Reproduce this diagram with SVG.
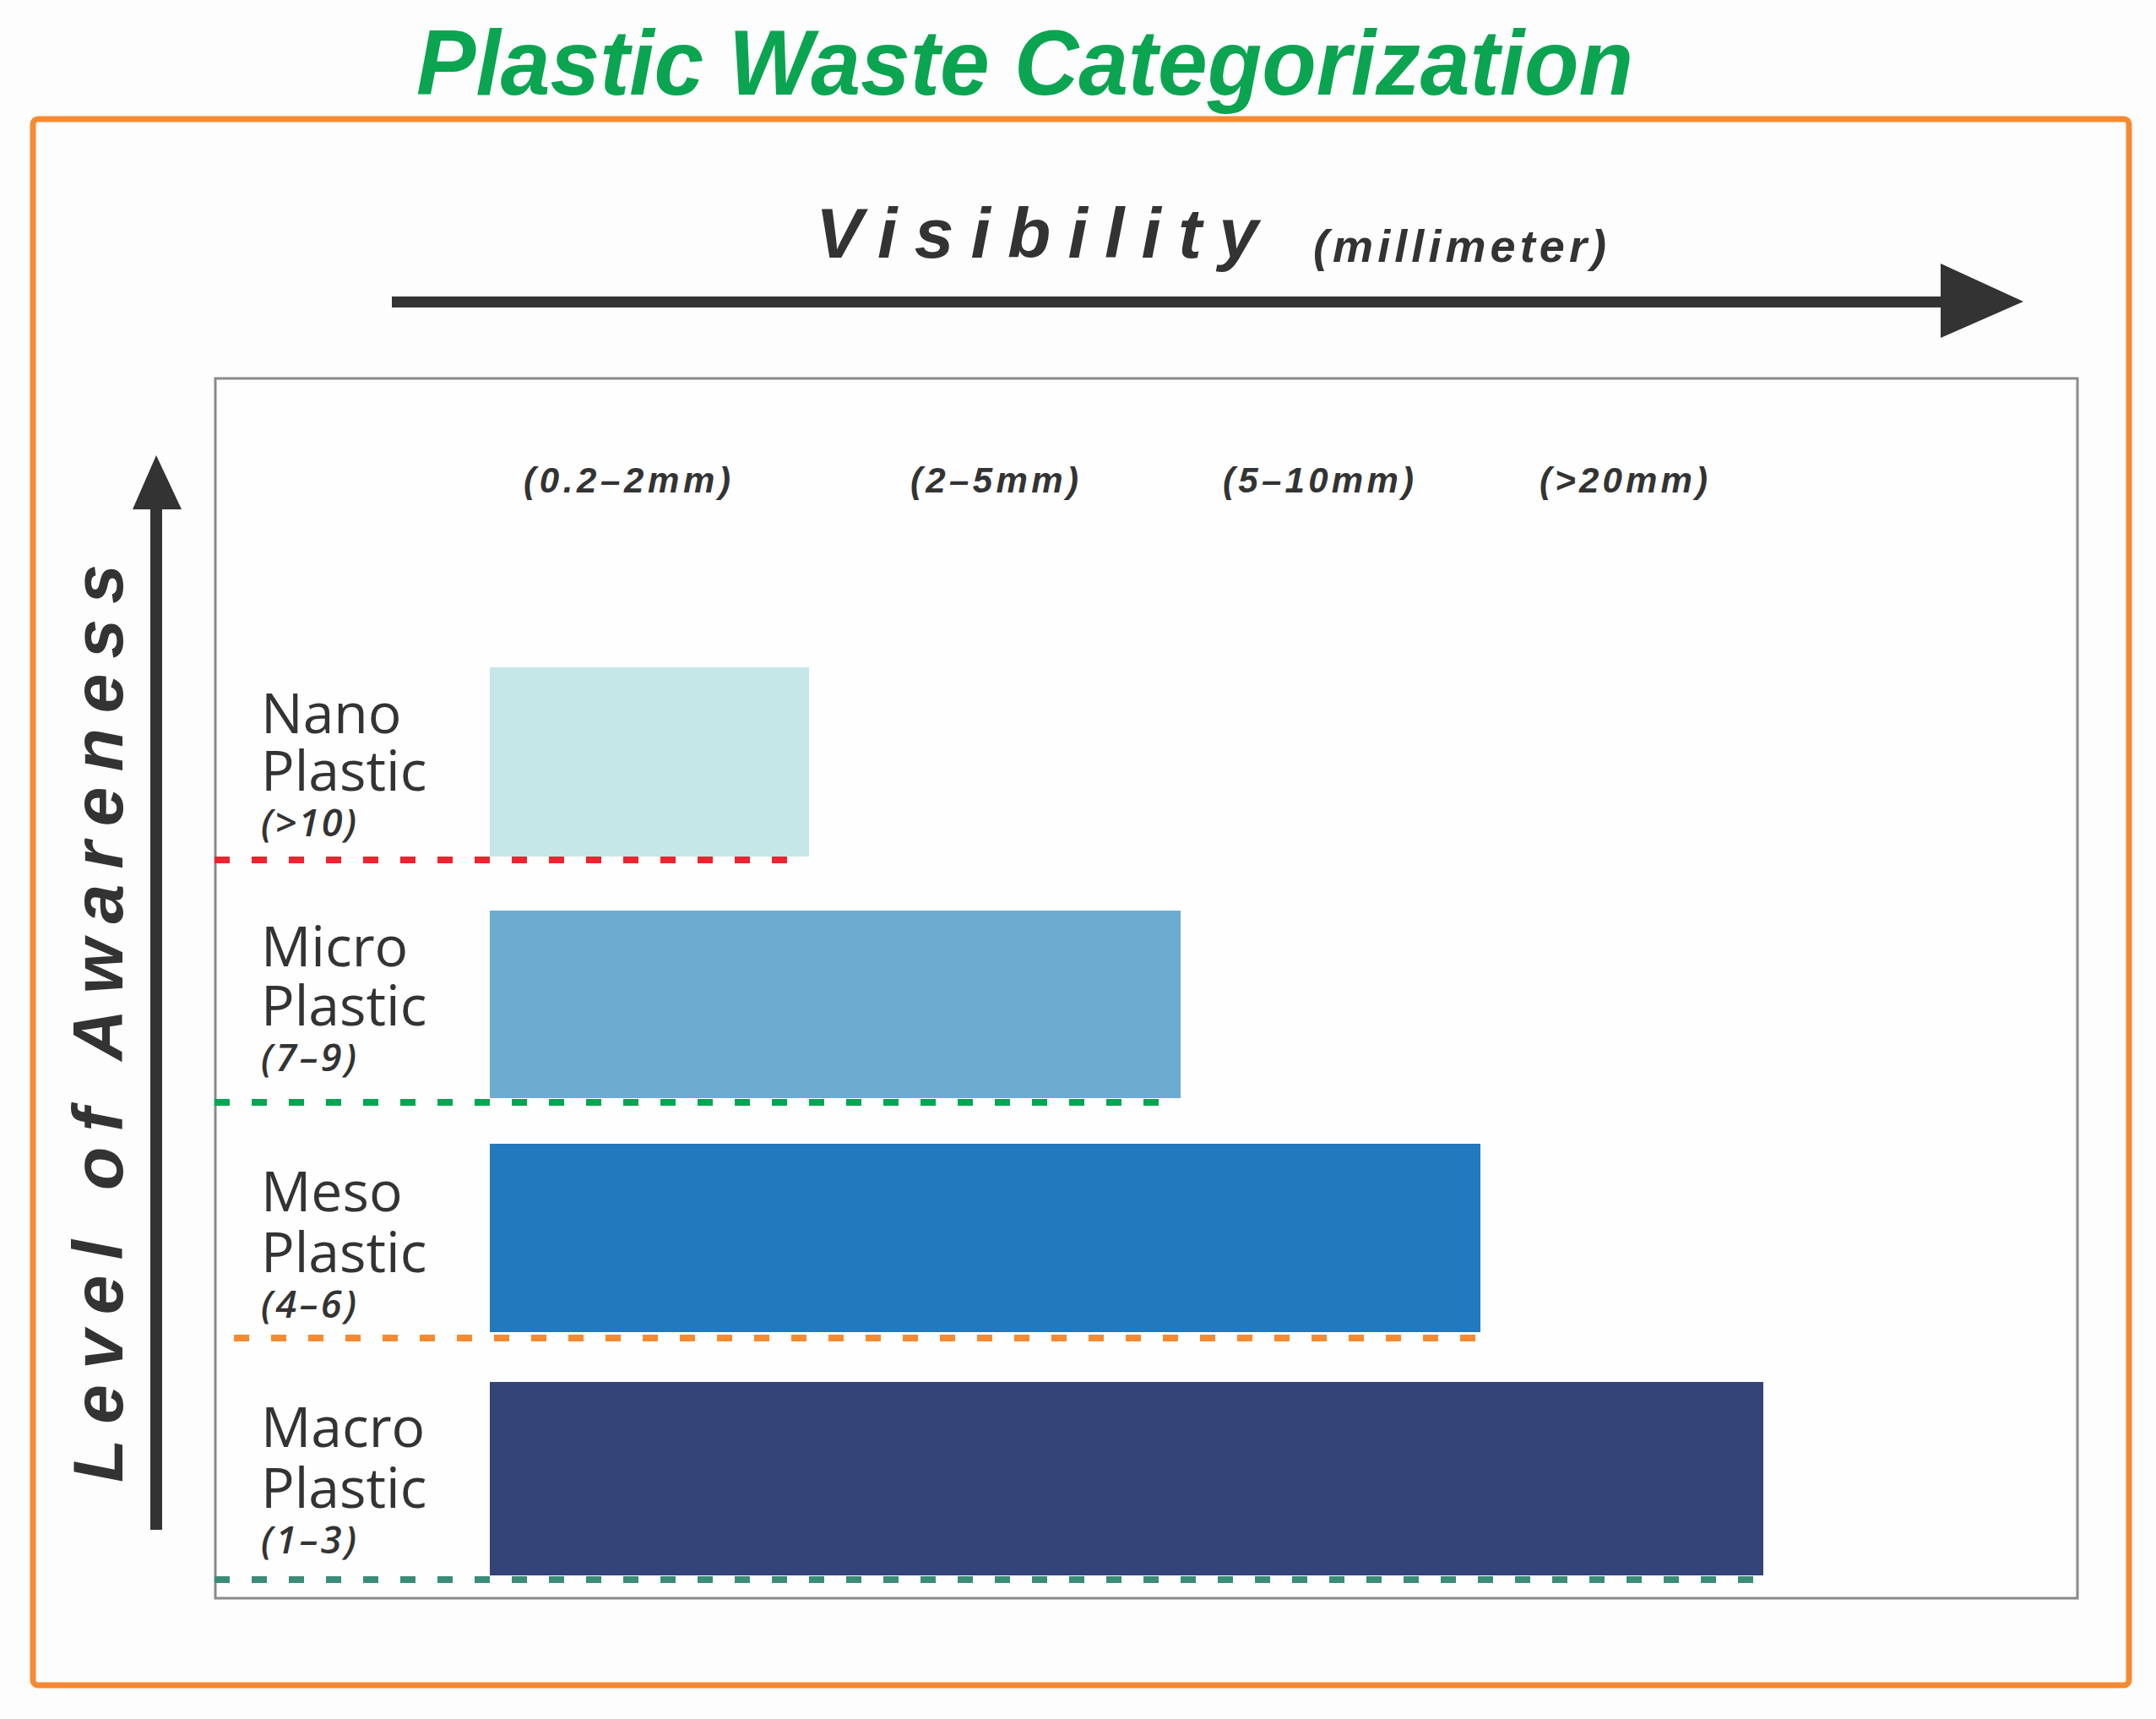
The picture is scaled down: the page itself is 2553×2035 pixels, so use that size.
<svg xmlns="http://www.w3.org/2000/svg" width="2553" height="2035" viewBox="0 0 2553 2035">
<style>
.title{font-family:"Liberation Sans",Arial,sans-serif;font-weight:bold;font-style:italic;fill:#0BA451}
.axis{font-family:"Liberation Sans",Arial,sans-serif;font-weight:bold;font-style:italic;fill:#333333}
.col{font-family:"Liberation Sans",Arial,sans-serif;font-weight:bold;font-style:italic;font-size:42px;fill:#333333}
.name{font-family:"Open Sans","Noto Sans",sans-serif;font-size:66px;fill:#333333}
.rank{font-family:"Open Sans","Noto Sans",sans-serif;font-style:italic;font-weight:600;font-size:45px;fill:#333333}
.dash{stroke-width:8;stroke-dasharray:18 26;fill:none}
</style>
<rect width="2553" height="2035" fill="#FDFDFD"/>
<text class="title" x="493" y="112" font-size="110" textLength="1441" lengthAdjust="spacingAndGlyphs">Plastic Waste Categorization</text>
<rect x="39" y="141" width="2482" height="1854" rx="6" fill="#FDFDFD" stroke="#F58A32" stroke-width="7"/>
<rect x="255" y="448" width="2205" height="1444" fill="#FEFEFE" stroke="#8A8A8A" stroke-width="3"/>
<g id="axes">
  <rect x="464" y="351" width="1840" height="13" fill="#333333"/>
  <polygon points="2298,312 2396,357 2298,400" fill="#333333"/>
  <rect x="178" y="598" width="14" height="1213" fill="#333333"/>
  <polygon points="157,603 185,539 215,603" fill="#333333"/>
</g>
<text class="axis" x="966" y="305" font-size="84" textLength="524" lengthAdjust="spacing">Visibility</text>
<text class="axis" x="1555" y="310" font-size="54" textLength="347" lengthAdjust="spacing">(millimeter)</text>
<text class="axis" font-size="84" transform="translate(145,1755) rotate(-90)" textLength="1087" lengthAdjust="spacing">Level of Awareness</text>
<g id="columns">
  <text class="col" x="620" y="583" textLength="245" lengthAdjust="spacing">(0.2–2mm)</text>
  <text class="col" x="1078" y="583" textLength="199" lengthAdjust="spacing">(2–5mm)</text>
  <text class="col" x="1448" y="583" textLength="226" lengthAdjust="spacing">(5–10mm)</text>
  <text class="col" x="1823" y="583" textLength="199" lengthAdjust="spacing">(&gt;20mm)</text>
</g>
<g id="nano">
  <rect x="580" y="790" width="378" height="224" fill="#C5E7E8"/>
  <line class="dash" x1="254" y1="1018" x2="940" y2="1018" stroke="#EC2430"/>
  <text class="name" x="309" y="868">Nano</text>
  <text class="name" x="309" y="936">Plastic</text>
  <text class="rank" x="309" y="990" textLength="113" lengthAdjust="spacing">(&gt;10)</text>
</g>
<g id="micro">
  <rect x="580" y="1078" width="818" height="222" fill="#6DABD1"/>
  <line class="dash" x1="254" y1="1305" x2="1380" y2="1305" stroke="#00A651"/>
  <text class="name" x="309" y="1144">Micro</text>
  <text class="name" x="309" y="1214">Plastic</text>
  <text class="rank" x="309" y="1268" textLength="113" lengthAdjust="spacing">(7–9)</text>
</g>
<g id="meso">
  <rect x="580" y="1354" width="1173" height="223" fill="#2279BE"/>
  <line class="dash" x1="277" y1="1584" x2="1756" y2="1584" stroke="#F68A30"/>
  <text class="name" x="309" y="1434">Meso</text>
  <text class="name" x="309" y="1506">Plastic</text>
  <text class="rank" x="309" y="1560" textLength="113" lengthAdjust="spacing">(4–6)</text>
</g>
<g id="macro">
  <rect x="580" y="1636" width="1508" height="229" fill="#344479"/>
  <line class="dash" x1="254" y1="1870" x2="2084" y2="1870" stroke="#3A8C78"/>
  <text class="name" x="309" y="1713">Macro</text>
  <text class="name" x="309" y="1785">Plastic</text>
  <text class="rank" x="309" y="1839" textLength="113" lengthAdjust="spacing">(1–3)</text>
</g>
</svg>
